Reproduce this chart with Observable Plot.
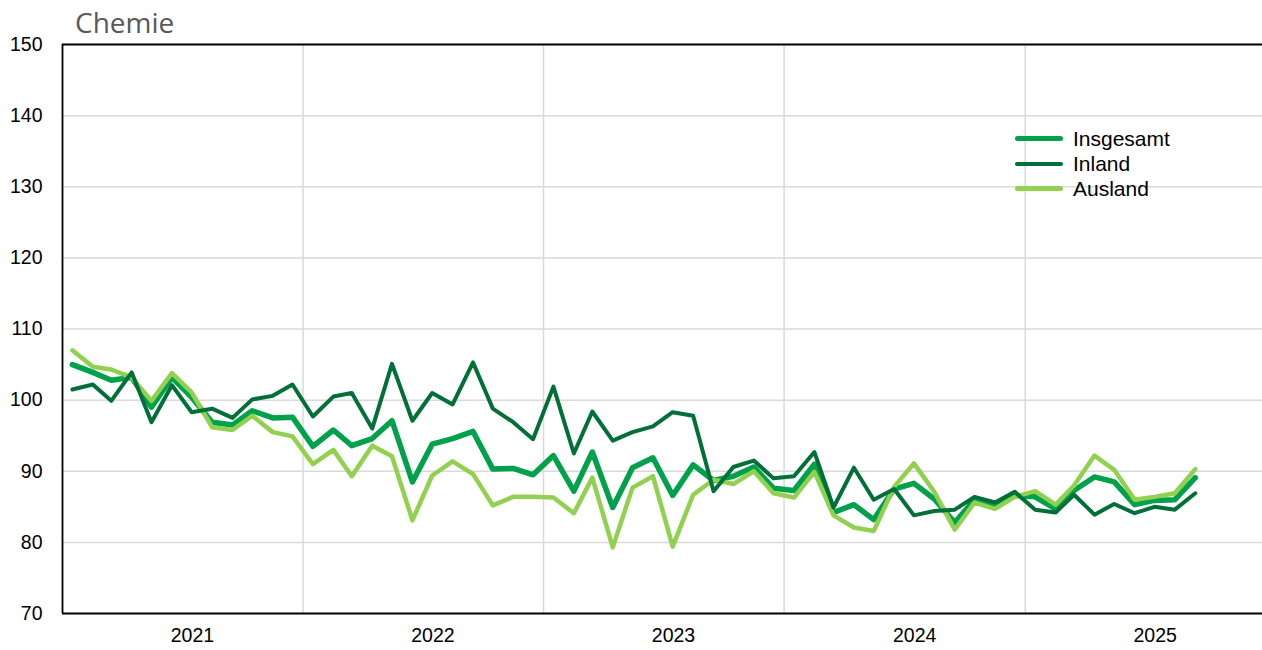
<!DOCTYPE html>
<html>
<head>
<meta charset="utf-8">
<script src="https://cdn.jsdelivr.net/npm/d3@7"></script>
<script src="https://cdn.jsdelivr.net/npm/@observablehq/plot@0.6"></script>
<style>
  html, body { margin: 0; padding: 0; background: #fff; }
  #wrap { position: relative; width: 1262px; height: 650px; font-family: "Liberation Sans", Arial, sans-serif; }
  #title { position: absolute; left: 75px; top: 3px; font-family: "Open Sans", "Noto Sans", sans-serif; font-size: 28px; color: #595959; }
  #legend { position: absolute; left: 1015px; top: 126px; font-size: 21px; color: #000; }
  #legend .row { display: flex; align-items: center; height: 25px; }
  #legend .sw { width: 48px; margin-right: 10px; border-radius: 3px; }
</style>
</head>
<body>
<div id="wrap">
  <div id="chart"></div>
  <div id="title">Chemie</div>
  <div id="legend"></div>
</div>
<script>
// Series names and colours
const seriesNames = ["Insgesamt", "Inland", "Ausland"];
const seriesColors = ["#00A14B", "#006F38", "#92D050"];
const seriesWidths = [5.5, 4, 4.5];

// Monthly values, January 2021 to September 2025
const startYear = 2021;
const insgesamt = [
  105.0, 103.9, 102.8, 103.2, 99.0, 103.2, 100.4, 96.9, 96.5, 98.5, 97.5, 97.6,
  93.5, 95.8, 93.6, 94.6, 97.1, 88.5, 93.8, 94.6, 95.6, 90.3, 90.4, 89.5,
  92.2, 87.2, 92.7, 84.9, 90.5, 91.9, 86.6, 90.9, 88.7, 89.3, 90.6, 87.6,
  87.3, 91.0, 84.2, 85.3, 83.2, 87.5, 88.3, 86.1, 82.8, 86.0, 85.2, 86.6,
  86.4, 84.7, 87.3, 89.2, 88.5, 85.3, 85.9, 86.0, 89.1
];
const inland = [
  101.5, 102.2, 99.9, 103.9, 96.9, 102.1, 98.3, 98.8, 97.5, 100.1, 100.6, 102.2,
  97.7, 100.5, 101.0, 96.0, 105.1, 97.1, 101.0, 99.4, 105.3, 98.8, 96.9, 94.5,
  101.9, 92.5, 98.4, 94.3, 95.5, 96.3, 98.3, 97.8, 87.2, 90.6, 91.5, 89.0,
  89.3, 92.7, 84.9, 90.5, 86.0, 87.5, 83.8, 84.4, 84.6, 86.4, 85.6, 87.1,
  84.6, 84.2, 86.7, 83.9, 85.4, 84.1, 85.0, 84.6, 86.9
];
const ausland = [
  107.0, 104.7, 104.3, 103.2, 99.9, 103.8, 101.1, 96.2, 95.8, 97.8, 95.5, 94.9,
  91.0, 93.0, 89.3, 93.6, 92.1, 83.1, 89.4, 91.4, 89.6, 85.2, 86.4, 86.4,
  86.3, 84.1, 89.1, 79.3, 87.7, 89.3, 79.4, 86.7, 88.8, 88.2, 90.0, 86.9,
  86.3, 89.9, 83.8, 82.1, 81.6, 87.8, 91.1, 87.1, 81.8, 85.6, 84.7, 86.4,
  87.2, 85.3, 88.0, 92.2, 90.2, 86.0, 86.4, 86.9, 90.3
];
const yTicks = [70, 80, 90, 100, 110, 120, 130, 140, 150];
const yearLabels = [2021, 2022, 2023, 2024, 2025];
const yearBounds = [2022, 2023, 2024, 2025];

const seriesValues = [insgesamt, inland, ausland];
const rows = [];
seriesNames.forEach((name, s) => {
  seriesValues[s].forEach((v, i) => {
    rows.push({series: name, date: new Date(Date.UTC(startYear, i, 16)), value: v});
  });
});
const drawOrder = ["Insgesamt", "Ausland", "Inland"];

const xDomain = [new Date(Date.UTC(2021, 0, 1)), new Date(Date.UTC(2025, 11, 27))];
const yDomain = [70, 150];

const chart = Plot.plot({
  width: 1262,
  height: 650,
  marginLeft: 62,
  marginRight: 0,
  marginTop: 44,
  marginBottom: 37,
  style: {fontFamily: "'Liberation Sans', Arial, sans-serif", fontSize: "19.5px", color: "#000", background: "#fff"},
  x: {type: "utc", domain: xDomain},
  y: {domain: yDomain},
  marks: [
    Plot.ruleY(yTicks.filter(t => t > yDomain[0] && t < yDomain[1]), {stroke: "#d9d9d9", strokeWidth: 1.5}),
    Plot.ruleX(yearBounds.map(y => new Date(Date.UTC(y, 0, 1))), {stroke: "#d9d9d9", strokeWidth: 1.5}),
    ...drawOrder.map(name => {
      const s = seriesNames.indexOf(name);
      return Plot.line(rows.filter(r => r.series === name), {
        x: "date", y: "value", stroke: seriesColors[s], strokeWidth: seriesWidths[s],
        strokeLinejoin: "round", strokeLinecap: "round"
      });
    }),
    Plot.ruleY([yDomain[0], yDomain[1]], {stroke: "#000", strokeWidth: 1.8}),
    Plot.ruleX([xDomain[0]], {stroke: "#000", strokeWidth: 1.8}),
    Plot.axisY({ticks: yTicks, tickSize: 0, tickPadding: 20, fontSize: 19.5, label: null}),
    Plot.axisX({ticks: yearLabels.map(y => new Date(Date.UTC(y, 6, 2))), tickFormat: d => String(d.getUTCFullYear()), tickSize: 0, tickPadding: 15, dx: 10, fontSize: 19.5, label: null})
  ]
});
document.getElementById("chart").appendChild(chart);

const legend = document.getElementById("legend");
seriesNames.forEach((name, s) => {
  const row = document.createElement("div");
  row.className = "row";
  const sw = document.createElement("div");
  sw.className = "sw";
  sw.style.background = seriesColors[s];
  sw.style.height = seriesWidths[s] + "px";
  const t = document.createElement("span");
  t.textContent = name;
  row.appendChild(sw);
  row.appendChild(t);
  legend.appendChild(row);
});
</script>
</body>
</html>
